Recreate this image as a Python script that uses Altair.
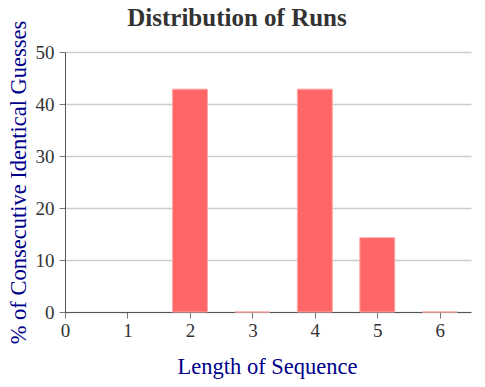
import altair as alt
import pandas as pd

lengths = [2, 3, 4, 5, 6]
percents = [42.86, 0, 42.86, 14.29, 0]

df = pd.DataFrame({"length": lengths, "pct": percents})

serif = "Liberation Serif"

chart = alt.Chart(df).mark_bar(
    size=35, color="#ff6666", stroke="#ffaaaa", strokeWidth=1
).encode(
    x=alt.X("length:Q",
            scale=alt.Scale(domain=[0, 6.5], nice=False, zero=True, padding=0),
            axis=alt.Axis(title="Length of Sequence", values=[0, 1, 2, 3, 4, 5, 6],
                          grid=False, format="d", tickSize=6, labelPadding=3,
                          labelFlush=False,
                          titleX=202, titleY=61, titleBaseline="alphabetic",
                          titleAlign="center")),
    y=alt.Y("pct:Q",
            scale=alt.Scale(domain=[0, 50], nice=False),
            axis=alt.Axis(title="% of Consecutive Identical Guesses",
                          values=[0, 10, 20, 30, 40, 50], tickSize=6,
                          labelPadding=5, titleX=-40, titleY=130,
                          titleBaseline="alphabetic", titleAlign="center",
                          titleAngle=270)),
).properties(
    width=406,
    height=260,
    title=alt.TitleParams("Distribution of Runs", font=serif, fontSize=25,
                          fontWeight="bold", color="#333333", dx=-31, offset=-11,
                          frame="group"),
    autosize=alt.AutoSizeParams(type="none"),
    padding={"left": 57, "top": 44, "right": 6, "bottom": 67},
).configure_view(stroke=None).configure_axis(
    labelFont=serif, labelFontSize=19, labelColor="#333333",
    titleFont=serif, titleFontSize=22.5, titleColor="#00008b", titleFontWeight="normal",
    domainColor="#555555", tickColor="#777777", gridColor="#cccccc", gridWidth=1.5,
).configure_axisY(domain=True)

chart.save("out.html", embed_options={"renderer": "svg", "actions": False})
